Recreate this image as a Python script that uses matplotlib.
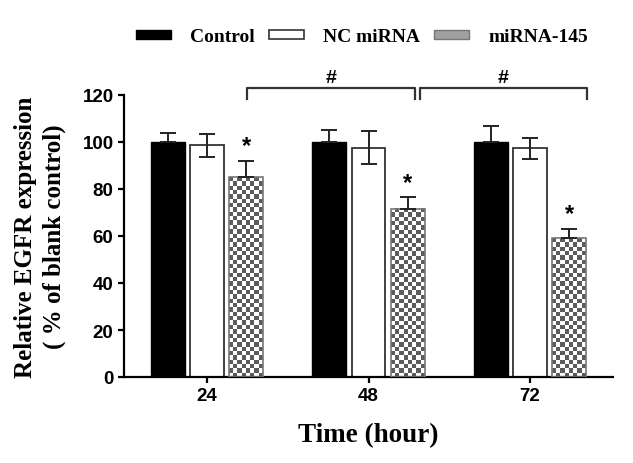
import numpy as np
import matplotlib
matplotlib.use("Agg")
import matplotlib.pyplot as plt
from matplotlib.patches import Patch

# values
times = ["24", "48", "72"]
groups = ["Control", "NC miRNA", "miRNA-145"]
control = [100, 100, 100]
control_err = [4, 5, 7]
nc = [98.6, 97.6, 97.3]
nc_err = [5, 7, 4.5]
mir145 = [85, 71.5, 59]
mir145_err = [7, 5, 4]

serif = ["Liberation Serif", "DejaVu Serif"]
sans = ["Liberation Sans", "DejaVu Sans"]

fig = plt.figure(figsize=(6.33, 4.64), dpi=100)
ax = fig.add_axes([124 / 633, 1 - 378 / 464, (613 - 124) / 633, (378 - 96) / 464])

x = np.arange(len(times))
w = 0.21
off = 0.242
ekw = dict(ecolor="#222222", elinewidth=1.4, capsize=6, capthick=1.4, zorder=4)
zeros = [0] * len(times)

b1 = ax.bar(x - off, control, w, color="black", edgecolor="black",
            yerr=[zeros, control_err], error_kw=ekw, zorder=2)
b2 = ax.bar(x, nc, w, color="white", edgecolor="#333333", linewidth=1.3,
            yerr=nc_err, error_kw=ekw, zorder=2)
b3 = ax.bar(x + off, mir145, w, color="none", edgecolor="#777777", linewidth=1.2,
            yerr=[zeros, mir145_err], error_kw=ekw, zorder=3)

ax.set_xlim(-0.514, 2.514)
ax.set_ylim(0, 120)

# checkerboard fill for miRNA-145 bars
cell_px = 4.3
ppx = (613 - 124) / 3.028
ppy = (378 - 96) / 120
checker_cmap = matplotlib.colors.ListedColormap(["white", "#5c5c5c"])
for r in b3:
    x0, y0 = r.get_x(), r.get_y()
    bw, bh = r.get_width(), r.get_height()
    nx = max(1, int(round(bw * ppx / cell_px)))
    ny = max(1, int(round(bh * ppy / cell_px)))
    grid = (np.add.outer(np.arange(ny), np.arange(nx)) % 2)
    ax.imshow(grid, cmap=checker_cmap, extent=[x0, x0 + bw, y0, y0 + bh],
              origin="lower", aspect="auto", interpolation="nearest", zorder=2.5)
ax.set_xlim(-0.514, 2.514)
ax.set_ylim(0, 120)
ax.set_aspect("auto")

# significance stars
for xi, v, e in zip(x, mir145, mir145_err):
    ax.text(xi + off, v + e + 1.5, "*", ha="center", va="bottom",
            fontsize=17, fontweight="bold", family=sans)

# brackets with #
def bracket(xa, xb, ytop, ylow):
    ax.plot([xa, xa, xb, xb], [ylow, ytop, ytop, ylow], color="#333333",
            lw=1.6, clip_on=False)
    ax.text((xa + xb) / 2, ytop + 1.0, "#", ha="center", va="bottom",
            fontsize=14, fontweight="bold", family=sans)

bracket(0.246, 1.285, 122.8, 118.3)
bracket(1.32, 2.35, 122.8, 118.3)

# axes styling
for s in ["top", "right"]:
    ax.spines[s].set_visible(False)
ax.spines["left"].set_linewidth(1.6)
ax.spines["bottom"].set_linewidth(1.6)
ax.set_yticks([0, 20, 40, 60, 80, 100, 120])
ax.set_xticks(x)
ax.set_xticklabels(times)
ax.tick_params(axis="both", width=1.6, length=4, labelsize=13.5)
for lab in ax.get_xticklabels() + ax.get_yticklabels():
    lab.set_family(sans)
    lab.set_fontweight("bold")

ax.set_xlabel("Time (hour)", fontsize=19.5, fontweight="bold", family=serif, labelpad=13)
ax.set_ylabel("Relative EGFR expression\n( % of blank control)", fontsize=18,
              fontweight="bold", family=serif, labelpad=12, linespacing=1.3)

# legend
handles = [Patch(facecolor="black", edgecolor="black"),
           Patch(facecolor="white", edgecolor="#333333", linewidth=1.2),
           Patch(facecolor="#a0a0a0", edgecolor="#777777")]
leg = fig.legend(handles, groups, loc="center", bbox_to_anchor=(362 / 633, 1 - 38 / 464),
                 ncol=3, frameon=False, handlelength=1.8, handleheight=0.35,
                 columnspacing=0.7, handletextpad=1.0,
                 prop=dict(family=serif, weight="bold", size=14))

fig.savefig("out.png", dpi=100)
